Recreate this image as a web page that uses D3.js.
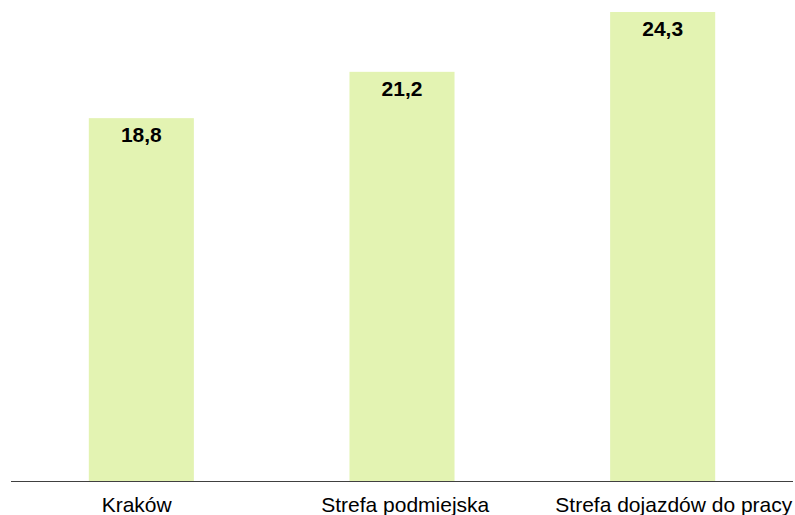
<!DOCTYPE html>
<html><head><meta charset="utf-8">
<script src="https://cdn.jsdelivr.net/npm/d3@7/dist/d3.min.js"></script>
<style>body{margin:0;background:#fff}svg{display:block}</style>
</head><body>
<script>
const categories = ["Kraków", "Strefa podmiejska", "Strefa dojazdów do pracy"];
const values = [18.8, 21.2, 24.3];
const valueLabels = ["18,8", "21,2", "24,3"];

const W = 795, H = 515;
const svg = d3.select("body").append("svg").attr("width", W).attr("height", H);

const x = d3.scaleBand().domain(categories).range([11, 793]).paddingInner(0.597).paddingOuter(0.2985);
const xLab = d3.scalePoint().domain(categories).range([136.7, 673.8]);
const y = d3.scaleLinear().domain([0, 24.3]).range([481, 12]);

svg.selectAll("rect.bar").data(values).enter().append("rect")
  .attr("class", "bar")
  .attr("x", (d, i) => x(categories[i]))
  .attr("width", x.bandwidth())
  .attr("y", d => y(d))
  .attr("height", d => y(0) - y(d))
  .attr("fill", "#e3f3b2");

svg.selectAll("text.val").data(values).enter().append("text")
  .attr("class", "val")
  .attr("x", (d, i) => x(categories[i]) + x.bandwidth() / 2)
  .attr("y", d => y(d) + 24)
  .attr("text-anchor", "middle")
  .attr("font-family", "Liberation Sans, Arial, sans-serif")
  .attr("font-weight", "bold")
  .attr("font-size", "21px")
  .attr("fill", "#000")
  .text((d, i) => valueLabels[i]);

svg.append("line")
  .attr("x1", 11).attr("x2", 793)
  .attr("y1", y(0) + 0.5).attr("y2", y(0) + 0.5)
  .attr("stroke", "#404040").attr("stroke-width", 1);

svg.selectAll("text.cat").data(categories).enter().append("text")
  .attr("class", "cat")
  .attr("x", d => xLab(d))
  .attr("y", 512)
  .attr("text-anchor", "middle")
  .attr("font-family", "Liberation Sans, Arial, sans-serif")
  .attr("font-size", "21px")
  .attr("fill", "#000")
  .text(d => d);
</script>
</body></html>
